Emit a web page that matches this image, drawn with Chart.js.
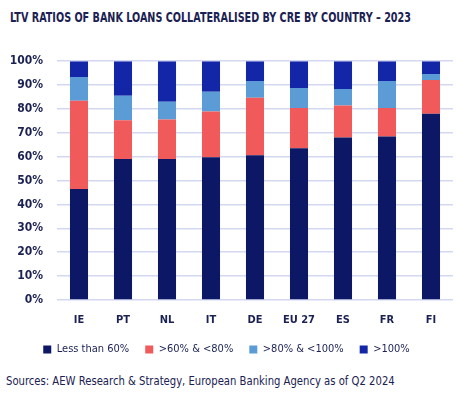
<!DOCTYPE html>
<html>
<head>
<meta charset="utf-8">
<script src="https://cdn.jsdelivr.net/npm/chart.js@4"></script>
<style>
  body { margin: 0; width: 466px; height: 396px; background: #fff; position: relative; overflow: hidden;
         font-family: "DejaVu Sans Condensed", "Liberation Sans", sans-serif; color: #1b2152; }
  #title { position: absolute; left: 10px; top: 9px; font-size: 14px; font-weight: bold; white-space: nowrap;
           transform: scaleX(0.765); transform-origin: left top; }
  #source { position: absolute; left: 6px; top: 373px; font-size: 13px; white-space: nowrap;
            transform: scaleX(0.86); transform-origin: left top; }
  #wrap { position: absolute; left: 0; top: 40px; width: 466px; height: 325px; }
</style>
</head>
<body>
<div id="title">LTV RATIOS OF BANK LOANS COLLATERALISED BY CRE BY COUNTRY – 2023</div>
<div id="wrap"><canvas id="chartLtv"></canvas></div>
<div id="source">Sources: AEW Research &amp; Strategy, European Banking Agency as of Q2 2024</div>
<script>
const countries = ['IE', 'PT', 'NL', 'IT', 'DE', 'EU 27', 'ES', 'FR', 'FI'];
const lessThan60 = [46.5, 59.0, 59.0, 59.8, 60.6, 63.5, 68.1, 68.5, 78.0];
const from60to80 = [36.9, 16.3, 16.6, 19.1, 24.1, 16.9, 13.3, 11.9, 14.1];
const from80to100 = [10.0, 10.2, 7.4, 8.3, 7.0, 8.4, 7.0, 11.3, 2.5];
const over100 = [6.6, 14.5, 17.0, 12.8, 8.3, 11.2, 11.6, 8.3, 5.4];
const yTicks = [0, 10, 20, 30, 40, 50, 60, 70, 80, 90, 100];

const fontFam = '"DejaVu Sans Condensed", "Liberation Sans", sans-serif';
const textCol = '#1b2152';

const ctx = document.getElementById('chartLtv');
new Chart(ctx, {
  type: 'bar',
  data: {
    labels: countries,
    datasets: [
      { label: 'Less than 60%', data: lessThan60, backgroundColor: '#0c1766' },
      { label: '>60% & <80%', data: from60to80, backgroundColor: '#f15a5b' },
      { label: '>80% & <100%', data: from80to100, backgroundColor: '#5b9bd6' },
      { label: '>100%', data: over100, backgroundColor: '#1326a8' }
    ]
  },
  options: {
    responsive: true,
    maintainAspectRatio: false,
    animation: false,
    datasets: { bar: { categoryPercentage: 1, barPercentage: 0.41 } },
    layout: { padding: { top: 8, right: 13, left: 0, bottom: 0 } },
    plugins: {
      legend: {
        position: 'bottom',
        labels: { boxWidth: 8, boxHeight: 8, color: textCol, padding: 16,
                  font: { family: fontFam, size: 11 } }
      },
      tooltip: { enabled: false }
    },
    scales: {
      x: {
        stacked: true,
        grid: { display: false },
        border: { display: false },
        afterFit: (s) => { s.height = 28; },
        ticks: { color: textCol, font: { family: fontFam, size: 11, weight: 'bold' }, padding: 6 }
      },
      y: {
        stacked: true,
        min: 0, max: 100,
        afterBuildTicks: (s) => { s.ticks = yTicks.map(v => ({ value: v })); },
        afterFit: (s) => { s.width = 57; },
        grid: { color: '#d3d7f2', lineWidth: 1.5, drawTicks: false },
        border: { display: false },
        ticks: { color: textCol, padding: 14, autoSkip: false,
                 font: { family: fontFam, size: 12, weight: 'bold' },
                 callback: (v) => v + '%' }
      }
    }
  }
});
</script>
</body>
</html>
